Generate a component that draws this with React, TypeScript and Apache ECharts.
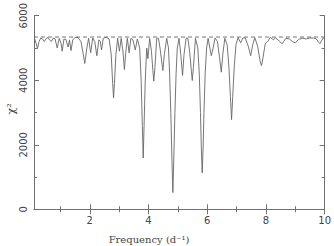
import React, { useEffect, useRef } from "react";
import * as echarts from "echarts";

// Frequency (d^-1) and chi^2 values
const freq = [
  0.12, 0.17, 0.22, 0.27, 0.33, 0.4, 0.45, 0.52, 0.58, 0.64, 0.69, 0.76, 0.82, 0.89, 0.96,
  1.02, 1.06, 1.12, 1.19, 1.26, 1.31, 1.36, 1.42, 1.5, 1.6, 1.7, 1.76, 1.83, 1.9, 1.96,
  2.03, 2.1, 2.17, 2.24, 2.31, 2.36, 2.4, 2.46, 2.55, 2.66, 2.73, 2.78, 2.81, 2.84, 2.89,
  2.95, 3.01, 3.07, 3.13, 3.18, 3.23, 3.28, 3.34, 3.4, 3.47, 3.55, 3.62, 3.7, 3.75, 3.79,
  3.82, 3.85, 3.89, 3.94, 3.98, 4.04, 4.1, 4.15, 4.18, 4.22, 4.28, 4.34, 4.4, 4.46, 4.49,
  4.54, 4.62, 4.68, 4.72, 4.76, 4.8, 4.83, 4.86, 4.9, 4.94, 4.98, 5.04, 5.1, 5.16, 5.21,
  5.28, 5.34, 5.4, 5.46, 5.49, 5.53, 5.6, 5.68, 5.73, 5.77, 5.8, 5.83, 5.86, 5.89, 5.93,
  5.98, 6.03, 6.09, 6.14, 6.2, 6.27, 6.35, 6.42, 6.48, 6.53, 6.6, 6.68, 6.74, 6.79, 6.83,
  6.87, 6.92, 6.98, 7.05, 7.14, 7.22, 7.3, 7.4, 7.48, 7.55, 7.62, 7.72, 7.8, 7.85, 7.9,
  7.98, 8.06, 8.15, 8.25, 8.33, 8.45, 8.55, 8.68, 8.8, 8.9, 9.0, 9.12, 9.25, 9.37, 9.5,
  9.62, 9.72, 9.79, 9.84, 9.9, 9.95, 10.0,
];
const chi2 = [
  5290, 5150, 4980, 5200, 5310, 5270, 5200, 5300, 5320, 5240, 5200, 5310, 5280, 5000, 5300,
  5150, 4900, 5280, 5260, 5030, 5250, 4920, 5250, 5330, 5320, 5200, 4900, 4520, 5000, 5300,
  4850, 5310, 5200, 4760, 5250, 5200, 4940, 5300, 5330, 5280, 4800, 3900, 3450, 3900, 4800,
  5300, 4900, 5300, 4900, 4330, 4900, 5300, 4850, 5300, 5250, 4940, 5280, 5000, 4000, 2600,
  1590, 2600, 4000, 5000, 4670, 5300, 4900, 4300, 3970, 4400, 5300, 5300, 4950, 4500, 4300,
  4800, 5300, 5000, 4200, 3000, 1500, 520, 1500, 3000, 4200, 5000, 5300, 4800, 4150, 4800,
  5300, 5300, 4900, 4300, 3990, 4400, 5300, 5000, 4200, 3000, 1900, 1130, 1900, 3000, 4200,
  5000, 5300, 5000, 4760, 5000, 5310, 5200, 4700, 4250, 4800, 5300, 5100, 4400, 3500, 2780,
  3500, 4400, 5100, 5320, 5160, 5320, 5300, 5050, 4760, 5100, 5320, 5050, 4600, 4450, 4700,
  5150, 5200, 5330, 5260, 5310, 5220, 5130, 5300, 5280, 5200, 5160, 5270, 5300, 5280, 5310,
  5310, 5280, 5180, 5130, 5230, 5310, 5300,
];
const referenceLevel = 5340;
const xRange = [0.1, 10];
const yRange = [0, 6000];
const xMajorTicks = [2, 4, 6, 8, 10];
const xMinorTicks = [1, 3, 5, 7, 9];
const yMajorTicks = [0, 2000, 4000, 6000];
const yMinorTicks = [1000, 3000, 5000];

const AXIS_COLOR = "#707070";
const TEXT_COLOR = "#444444";
const plain = (v: number) => String(v);

function makeX(position: "top" | "bottom", ticks: number[], len: number, showLine: boolean, showLabel: boolean) {
  return {
    type: "value",
    min: xRange[0],
    max: xRange[1],
    position,
    axisLine: { show: showLine, lineStyle: { color: AXIS_COLOR, width: 1 } },
    axisTick: { show: true, inside: true, length: len, customValues: ticks, lineStyle: { color: AXIS_COLOR } },
    axisLabel: {
      show: showLabel,
      customValues: ticks,
      formatter: plain,
      margin: 6,
      color: TEXT_COLOR,
      fontFamily: "DejaVu Sans",
      fontSize: 10,
    },
    splitLine: { show: false },
  };
}

function makeY(position: "left" | "right", ticks: number[], len: number, showLine: boolean, showLabel: boolean) {
  return {
    type: "value",
    min: yRange[0],
    max: yRange[1],
    position,
    axisLine: { show: showLine, lineStyle: { color: AXIS_COLOR, width: 1 } },
    axisTick: { show: true, inside: true, length: len, customValues: ticks, lineStyle: { color: AXIS_COLOR } },
    axisLabel: {
      show: showLabel,
      customValues: ticks,
      formatter: plain,
      rotate: 90,
      margin: 6,
      color: TEXT_COLOR,
      fontFamily: "DejaVu Sans",
      fontSize: 10,
    },
    splitLine: { show: false },
  };
}

export default function App() {
  const ref = useRef<HTMLDivElement>(null);
  useEffect(() => {
    if (!ref.current) return;
    const chart = echarts.init(ref.current, null, { renderer: "svg" });
    const data = freq.map((f, i) => [f, chi2[i]]);
    chart.setOption({
      animation: false,
      backgroundColor: "#ffffff",
      grid: { left: 34, right: 6.5, top: 12, bottom: 36.7 },
      xAxis: [
        makeX("bottom", xMajorTicks, 5, true, true),
        makeX("bottom", xMinorTicks, 3, false, false),
        makeX("top", xMajorTicks, 5, true, false),
        makeX("top", xMinorTicks, 3, false, false),
      ],
      yAxis: [
        makeY("left", yMajorTicks, 5, true, true),
        makeY("left", yMinorTicks, 3, false, false),
        makeY("right", yMajorTicks, 5, true, false),
        makeY("right", yMinorTicks, 3, false, false),
      ],
      series: [
        {
          type: "line",
          xAxisIndex: 0,
          yAxisIndex: 0,
          data: [
            [xRange[0], referenceLevel],
            [xRange[1], referenceLevel],
          ],
          showSymbol: false,
          lineStyle: { color: "#666", width: 0.9, type: [4, 3] },
          silent: true,
        },
        {
          type: "line",
          xAxisIndex: 0,
          yAxisIndex: 0,
          data,
          showSymbol: false,
          lineStyle: { color: "#666666", width: 0.9 },
          silent: true,
        },
      ],
      graphic: [
        {
          type: "text",
          x: 149,
          y: 239,
          style: {
            text: "Frequency (d⁻¹)",
            font: '10px "DejaVu Serif"',
            fill: TEXT_COLOR,
            textAlign: "center",
            textVerticalAlign: "middle",
          },
        },
        {
          type: "text",
          x: 11,
          y: 109,
          rotation: Math.PI / 2,
          style: {
            text: "χ²",
            font: '11px "DejaVu Serif"',
            fill: TEXT_COLOR,
            textAlign: "center",
            textVerticalAlign: "middle",
          },
        },
      ],
    });
    return () => chart.dispose();
  }, []);
  return (
    <div
      ref={ref}
      style={{ position: "fixed", left: 0, top: 0, width: 334, height: 246, background: "#fff" }}
    />
  );
}
